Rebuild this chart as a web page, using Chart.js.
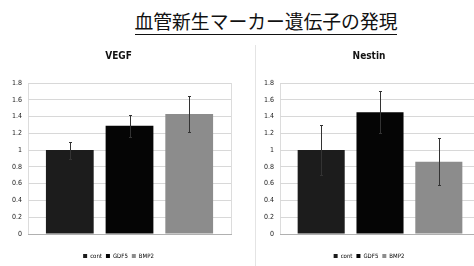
<!DOCTYPE html>
<html>
<head>
<meta charset="utf-8">
<script src="https://cdn.jsdelivr.net/npm/chart.js@4"></script>
<style>
  body { margin: 0; background: #fff; width: 474px; height: 266px; overflow: hidden; position: relative; }
  #main-title {
    position: absolute; left: 0; width: 532px; top: 7px; text-align: center;
    font-family: 'Noto Sans CJK JP', sans-serif; font-size: 18.8px; color: #111;
  }
  #main-title span { border-bottom: 1.5px solid #111; line-height: 23px; }
  .box { position: absolute; top: 44px; height: 222px; }
  #divider { position: absolute; left: 255px; top: 45px; width: 1px; height: 221px; background: #e4e4e4; }
</style>
</head>
<body>
<div id="main-title"><span>血管新生マーカー遺伝子の発現</span></div>
<div class="box" style="left:0; width:252px;"><canvas id="chart-vegf"></canvas></div>
<div id="divider"></div>
<div class="box" style="left:258px; width:222px;"><canvas id="chart-nestin"></canvas></div>

<script>
// grupos
const categories = ['cont', 'GDF5', 'BMP2'];
const barColors = ['#1c1c1c', '#050505', '#8c8c8c'];

// VEGF
const vegfValues = [1.0, 1.29, 1.43];
const vegfErrors = [0.1, 0.13, 0.22];

// Nestin
const nestinValues = [1.0, 1.45, 0.86];
const nestinErrors = [0.3, 0.25, 0.28];

// eixo y
const yTicks = [0, 0.2, 0.4, 0.6, 0.8, 1, 1.2, 1.4, 1.6, 1.8];

const narrowFont = "'Liberation Sans Narrow', 'DejaVu Sans Condensed', sans-serif";

// desenha as barras de erro usando a escala do grafico
const errorBarPlugin = {
    id: 'errorBars',
    afterDatasetsDraw(chart) {
        const ctx = chart.ctx;
        const meta = chart.getDatasetMeta(0);
        const yScale = chart.scales.y;
        const values = chart.data.datasets[0].data.map(p => p.y);
        const errors = chart.data.datasets[0].errors;
        ctx.save();
        ctx.strokeStyle = '#333';
        ctx.lineWidth = 1;
        meta.data.forEach((bar, i) => {
            const x = Math.round(bar.x) + 0.5;
            const top = Math.round(yScale.getPixelForValue(values[i] + errors[i])) + 0.5;
            const bottom = Math.round(yScale.getPixelForValue(values[i] - errors[i])) + 0.5;
            ctx.beginPath();
            ctx.moveTo(x, top);
            ctx.lineTo(x, bottom);
            ctx.moveTo(x - 1.5, top);
            ctx.lineTo(x + 1.5, top);
            ctx.moveTo(x - 1.5, bottom);
            ctx.lineTo(x + 1.5, bottom);
            ctx.stroke();
        });
        ctx.restore();
    }
};

function createBarChartConfig(title, values, errors, padding) {
    return {
        type: 'bar',
        data: {
            datasets: [{
                data: values.map((v, i) => ({ x: i, y: v })),
                errors: errors,
                backgroundColor: barColors,
                categoryPercentage: 0.8,
                barPercentage: 1.0
            }]
        },
        options: {
            responsive: true,
            maintainAspectRatio: false,
            animation: false,
            layout: { padding: padding },
            scales: {
                x: {
                    type: 'linear',
                    offset: false,
                    min: -0.7,
                    max: 2.7,
                    afterBuildTicks: axis => { axis.ticks = [{ value: -0.7 }, { value: 2.7 }]; },
                    afterFit: axis => { axis.height = 15; },
                    ticks: { display: false },
                    grid: { color: '#dcdcdc', drawTicks: false, offset: false },
                    border: { color: '#b0b0b0' }
                },
                y: {
                    min: 0,
                    max: 1.8,
                    afterBuildTicks: axis => { axis.ticks = yTicks.map(v => ({ value: v })); },
                    ticks: {
                        font: { family: narrowFont, size: 7 },
                        color: '#222',
                        padding: 6,
                        callback: v => String(Math.round(v * 10) / 10)
                    },
                    grid: { color: '#d8d8d8', drawTicks: false },
                    border: { display: false }
                }
            },
            plugins: {
                title: {
                    display: true,
                    text: title,
                    color: '#111',
                    font: { family: narrowFont, size: 10, weight: 'bold' },
                    padding: { top: 6, bottom: 21 }
                },
                legend: {
                    display: true,
                    position: 'bottom',
                    labels: {
                        boxWidth: 4,
                        boxHeight: 4,
                        padding: 4,
                        color: '#222',
                        font: { family: narrowFont, size: 6 },
                        generateLabels: () => categories.map((c, i) => ({
                            text: c,
                            fillStyle: barColors[i],
                            strokeStyle: barColors[i],
                            lineWidth: 0,
                            hidden: false,
                            index: i
                        }))
                    },
                    onClick: null
                },
                tooltip: { enabled: false }
            }
        },
        plugins: [errorBarPlugin]
    };
}

new Chart(document.getElementById('chart-vegf').getContext('2d'),
    createBarChartConfig('VEGF', vegfValues, vegfErrors, { left: 6, right: 21, bottom: -3 }));
new Chart(document.getElementById('chart-nestin').getContext('2d'),
    createBarChartConfig('Nestin', nestinValues, nestinErrors, { left: 0, right: 0, bottom: -3 }));
</script>
</body>
</html>
